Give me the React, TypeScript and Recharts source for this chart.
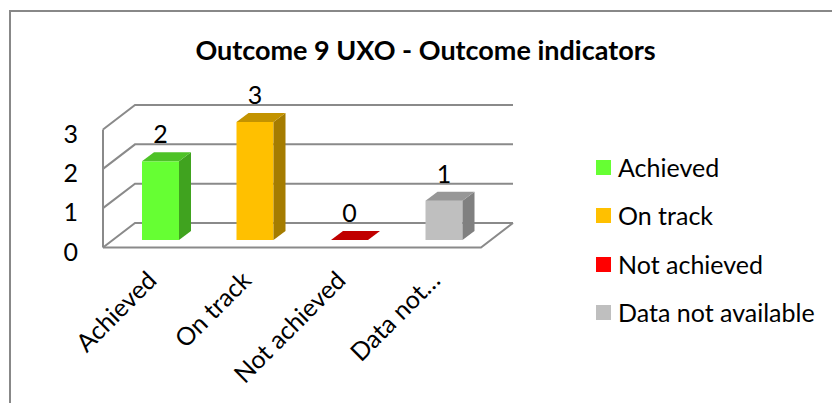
import React from 'react';
import { BarChart, Bar, XAxis, YAxis, CartesianGrid, LabelList } from 'recharts';

// ---- data ----
const categories = ['Achieved', 'On track', 'Not achieved', 'Data not available'];
const tickLabels = ['Achieved', 'On track', 'Not achieved', 'Data not…'];
const values = [2, 3, 0, 1];
const yTicks = [0, 1, 2, 3];
const title = 'Outcome 9 UXO - Outcome indicators';

// ---- styles ----
const FRONT = ['#66FF33', '#FFC000', '#FF0000', '#BFBFBF'];
const TOP = ['#4EC227', '#C39300', '#C00000', '#979797'];
const SIDE = ['#40A31F', '#A57C00', '#A00000', '#808080'];
const LEGEND_COLORS = ['#66FF33', '#FFC000', '#FF0000', '#BFBFBF'];
const FONT = 'Lato, "Noto Sans", sans-serif';
const GRID = '#8a8a8a';

// ---- layout ----
const W = 832;
const H = 403;
const PLOT_LEFT = 113;
const PLOT_RIGHT = 491;
const PLOT_TOP = 122;
const PLOT_BOTTOM = 240;
const FRONT_DX = -10;
const FRONT_DY = 7.5;
const BACK_DX = 22;
const BACK_DY = -17;
const BAR_DX = 12;
const BAR_DY = 9;

const data = categories.map((c, i) => ({ name: tickLabels[i], full: c, value: values[i], idx: i }));

const gridLine = (p: any) => {
  const { x1, x2, y1 } = p;
  const fy = y1 + FRONT_DY;
  const by = y1 + BACK_DY;
  const fxL = x1 + FRONT_DX;
  const bxL = x1 + BACK_DX;
  const fxR = x2 + FRONT_DX;
  const bxR = x2 + BACK_DX;
  const isBottom = Math.abs(y1 - PLOT_BOTTOM) < 1;
  const isTop = Math.abs(y1 - PLOT_TOP) < 1;
  return (
    <g key={`gl-${y1}`}>
      <polyline points={`${fxL},${fy} ${bxL},${by} ${bxR},${by}`} fill="none" stroke={GRID} strokeWidth={2} />
      {isBottom && (
        <polyline points={`${fxL},${fy} ${fxR},${fy} ${bxR},${by}`} fill="none" stroke={GRID} strokeWidth={2} />
      )}
      {isTop && (
        <line x1={fxL} y1={fy} x2={fxL} y2={PLOT_BOTTOM + FRONT_DY} stroke={GRID} strokeWidth={2} />
      )}
    </g>
  );
};

const Box3D = (p: any) => {
  const { x, y, width: w, height: h } = p;
  const i = p.payload?.idx ?? p.index ?? 0;
  const dx = BAR_DX;
  const dy = BAR_DY;
  return (
    <g>
      {h > 0 && <rect x={x} y={y} width={w} height={h} fill={FRONT[i]} />}
      {h > 0 && (
        <polygon
          points={`${x + w},${y} ${x + w + dx},${y - dy} ${x + w + dx},${y + h - dy} ${x + w},${y + h}`}
          fill={SIDE[i]}
        />
      )}
      <polygon points={`${x},${y} ${x + dx},${y - dy} ${x + w + dx},${y - dy} ${x + w},${y}`} fill={TOP[i]} />
    </g>
  );
};

const YTick = (p: any) => {
  const { y, payload } = p;
  return (
    <text x={PLOT_LEFT - 35} y={y + FRONT_DY + 3} textAnchor="end" dominantBaseline="central" fontFamily={FONT} fontSize={25} fill="#000">
      {payload.value}
    </text>
  );
};

const XTick = (p: any) => {
  const { x, payload } = p;
  const ax = x - 2;
  const ay = PLOT_BOTTOM + 42;
  return (
    <text x={ax} y={ay} transform={`rotate(-45 ${ax} ${ay})`} textAnchor="end" fontFamily={FONT} fontSize={25} fill="#000">
      {payload.value}
    </text>
  );
};

const ValueLabel = (p: any) => {
  const { x, y, width, value } = p;
  return (
    <text x={x + width / 2} y={y - 18} textAnchor="middle" fontFamily={FONT} fontSize={25} fill="#000">
      {value}
    </text>
  );
};

export default function App() {
  return (
    <div style={{ position: 'absolute', left: 0, top: 0, width: W, height: H, background: '#fff', overflow: 'hidden' }}>
      <div
        style={{
          position: 'absolute',
          left: 9,
          top: 10,
          width: W + 20,
          height: H + 20,
          borderLeft: '2px solid #888',
          borderTop: '2px solid #888',
          boxSizing: 'border-box',
        }}
      />
      <div
        style={{
          position: 'absolute',
          left: 0,
          width: 851,
          top: 33,
          textAlign: 'center',
          fontFamily: FONT,
          fontWeight: 700,
          fontSize: 27,
          lineHeight: '34px',
          color: '#000',
        }}
      >
        {title}
      </div>
      <div style={{ position: 'absolute', left: 0, top: 0 }}>
        <BarChart
          width={W}
          height={H}
          data={data}
          margin={{ top: PLOT_TOP, right: W - PLOT_RIGHT, bottom: 0, left: 0 }}
        >
          <CartesianGrid vertical={false} horizontal={gridLine} />
          <YAxis
            width={PLOT_LEFT}
            domain={[0, 3]}
            ticks={yTicks}
            axisLine={false}
            tickLine={false}
            tick={<YTick />}
            interval={0}
          />
          <XAxis
            dataKey="name"
            height={H - PLOT_BOTTOM}
            axisLine={false}
            tickLine={false}
            interval={0}
            tick={<XTick />}
          />
          <Bar dataKey="value" barSize={37} shape={<Box3D />} isAnimationActive={false}>
            <LabelList dataKey="value" content={<ValueLabel />} />
          </Bar>
        </BarChart>
      </div>
      <div style={{ position: 'absolute', left: 596, top: 143, fontFamily: FONT, fontSize: 25, color: '#000' }}>
        {categories.map((c, i) => (
          <div key={c} style={{ display: 'flex', alignItems: 'center', height: 48.5 }}>
            <span style={{ display: 'inline-block', width: 15, height: 15, background: LEGEND_COLORS[i], marginRight: 7 }} />
            <span style={{ lineHeight: '25px', whiteSpace: 'nowrap' }}>{c}</span>
          </div>
        ))}
      </div>
    </div>
  );
}
